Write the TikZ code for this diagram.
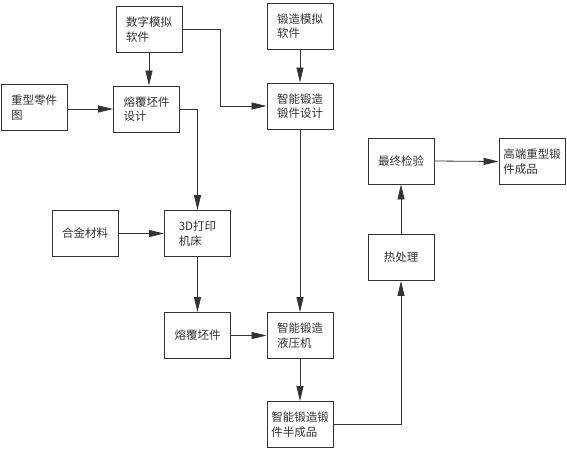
\documentclass[tikz,border=0pt]{standalone}
\usepackage{fontspec}
\newfontfamily\cjk{Noto Sans CJK SC}
\usetikzlibrary{arrows.meta}
\definecolor{ln}{HTML}{333333}
\definecolor{tx}{HTML}{303030}
\tikzset{
  box/.style={draw=ln, line width=0.9pt, minimum width=66pt, minimum height=46pt,
    inner sep=0pt, align=left, text=tx, font=\cjk\fontsize{11.5}{14.5}\selectfont},
  conn/.style={draw=ln, line width=0.8pt, -{Triangle[length=15pt,width=7pt]}}
}
\begin{document}
\begin{tikzpicture}[x=1pt,y=-1pt]
\useasboundingbox (0,0) rectangle (567,450);
\node[box] (sz)   at (149,29.5)  {数字模拟\\软件};
\node[box] (dz)   at (300,26)    {锻造模拟\\软件};
\node[box] (zx)   at (34,107.5)  {重型零件\\图};
\node[box] (rfs)  at (146.5,109) {熔覆坯件\\设计};
\node[box] (znsj) at (300,106)   {智能锻造\\锻件设计};
\node[box] (hj)   at (85,233.5)  {合金材料};
\node[box] (dp)   at (197.5,233.5) {3D打印\\机床};
\node[box] (rfp)  at (197.5,335.5) {熔覆坯件};
\node[box] (yyj)  at (300,335.5) {智能锻造\\液压机};
\node[box] (bcp)  at (300,424.5) {智能锻造锻\\件半成品};
\node[box] (rcl)  at (401,257.5) {热处理};
\node[box] (zzjy) at (401,161)   {最终检验};
\node[box] (gd)   at (532,161.5) {高端重型锻\\件成品};
\coordinate (k1) at (220,29.5);
\draw[conn] (sz.south) -- (sz.south |- rfs.north);
\draw[conn] (sz.east) -- (k1) |- (znsj.west);
\draw[conn] (zx.east |- rfs.west) -- (rfs.west);
\draw[conn] (dz.south) -- (znsj.north);
\draw[conn] (rfs.east) -| (dp.north);
\draw[conn] (znsj.south) -- (yyj.north);
\draw[conn] (hj.east) -- (dp.west);
\draw[conn] (dp.south) -- (rfp.north);
\draw[conn] (rfp.east) -- (yyj.west);
\draw[conn] (yyj.south) -- (bcp.north);
\draw[conn] (bcp.east) -| (rcl.south);
\draw[conn] (rcl.north) -- (zzjy.south);
\draw[conn] (zzjy.east) -- (gd.west);
\end{tikzpicture}
\end{document}
